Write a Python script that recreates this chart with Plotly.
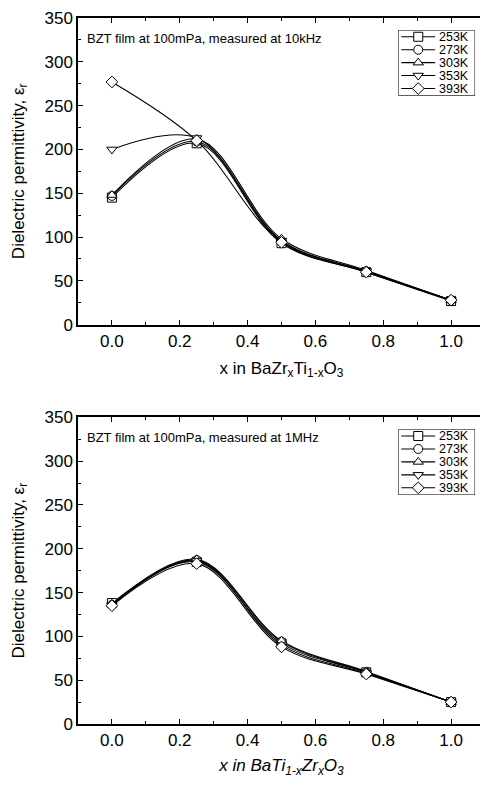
import plotly.graph_objects as go

x_vals = [0.0, 0.25, 0.5, 0.75, 1.0]
temps = ["253K", "273K", "303K", "353K", "393K"]
symbols = ["square", "circle", "triangle-up", "triangle-down", "diamond"]

# 10 kHz (top panel)
eps_10k_253 = [145, 207, 93, 60, 27]
eps_10k_273 = [147, 209, 95, 61, 28]
eps_10k_303 = [148, 212, 98, 62, 28]
eps_10k_353 = [200, 213, 96, 61, 28]
eps_10k_393 = [277, 210, 94, 60, 28]

# 1 MHz (bottom panel)
eps_1m_253 = [138, 185, 92, 59, 25]
eps_1m_273 = [136, 187, 94, 59, 25]
eps_1m_303 = [137, 188, 95, 60, 25]
eps_1m_353 = [135, 186, 90, 58, 25]
eps_1m_393 = [135, 183, 88, 57, 25]

top_series = [eps_10k_253, eps_10k_273, eps_10k_303, eps_10k_353, eps_10k_393]
bot_series = [eps_1m_253, eps_1m_273, eps_1m_303, eps_1m_353, eps_1m_393]

x_ticks = [0.0, 0.2, 0.4, 0.6, 0.8, 1.0]
x_tick_text = ["0.0", "0.2", "0.4", "0.6", "0.8", "1.0"]
y_ticks = [0, 50, 100, 150, 200, 250, 300, 350]

FONT = "Liberation Sans, Arial, sans-serif"
MSIZE = 9

fig = go.Figure()

for row_series, xa, ya in [(top_series, "x", "y"), (bot_series, "x2", "y2")]:
    for t, sym, ys in zip(temps, symbols, row_series):
        fig.add_trace(go.Scatter(
            x=x_vals, y=ys, xaxis=xa, yaxis=ya, name=t, showlegend=False,
            mode="lines+markers",
            line=dict(color="black", width=1.1, shape="spline", smoothing=1.0),
            marker=dict(symbol=sym, size=MSIZE, color="white", line=dict(color="black", width=1)),
        ))

# Hand-built legends (boxes with line+marker samples), one per panel
legend_axes = [("x3", "y3"), ("x4", "y4")]
annotations = []
shapes = []
for xa, ya in legend_axes:
    for i, (t, sym) in enumerate(zip(temps, symbols)):
        yc = 6.8 + 13 * i
        fig.add_trace(go.Scatter(
            x=[3, 37], y=[yc, yc], xaxis=xa, yaxis=ya, showlegend=False,
            mode="lines", hoverinfo="skip",
            line=dict(color="black", width=1.1),
        ))
        fig.add_trace(go.Scatter(
            x=[20], y=[yc], xaxis=xa, yaxis=ya, showlegend=False,
            mode="markers", hoverinfo="skip",
            marker=dict(symbol=sym, size=MSIZE, color="white",
                        line=dict(color="black", width=1)),
        ))
        annotations.append(dict(text=t, xref=xa, yref=ya, x=39, y=yc, xanchor="left",
                                yanchor="middle", showarrow=False, height=12,
                                font=dict(family=FONT, size=12.5, color="black")))
    shapes.append(dict(type="rect", xref=xa, yref=ya, x0=0, x1=77, y0=0, y1=66,
                       line=dict(color="black", width=1), fillcolor="rgba(0,0,0,0)", layer="below"))

axis_common = dict(
    showgrid=False, zeroline=False, showline=True, linecolor="black", linewidth=1.5,
    mirror="allticks", ticks="inside", ticklen=5, tickwidth=1.2, tickcolor="black",
    tickfont=dict(family=FONT, size=17, color="black"),
)
hidden = dict(visible=False, showgrid=False, zeroline=False, fixedrange=True)

fig.update_layout(
    width=480, height=779,
    margin=dict(l=70, r=1, t=7, b=63),
    paper_bgcolor="white", plot_bgcolor="white",
    font=dict(family=FONT, color="black"),
    showlegend=False,
    xaxis=dict(**axis_common, domain=[0, 1], anchor="y", range=[-0.1, 1.1],
               tickvals=x_ticks, ticktext=x_tick_text,
               minor=dict(ticks="inside", ticklen=3, dtick=0.1, tick0=0, tickcolor="black"),
               title=dict(text="x in BaZr<sub>x</sub>Ti<sub>1-x</sub>O<sub>3</sub>",
                          font=dict(family=FONT, size=17), standoff=12)),
    yaxis=dict(**axis_common, domain=[0.5656, 1.0], anchor="x", range=[0, 350],
               tickvals=y_ticks,
               minor=dict(ticks="inside", ticklen=3, dtick=25, tick0=0, tickcolor="black"),
               title=dict(text="Dielectric permittivity, ε<sub>r</sub>",
                          font=dict(family=FONT, size=17), standoff=16)),
    xaxis2=dict(**axis_common, domain=[0, 1], anchor="y2", range=[-0.1, 1.1],
                tickvals=x_ticks, ticktext=x_tick_text,
                minor=dict(ticks="inside", ticklen=3, dtick=0.1, tick0=0, tickcolor="black"),
                title=dict(text="<i>x in BaTi<sub>1-x</sub>Zr<sub>x</sub>O<sub>3</sub></i>",
                           font=dict(family=FONT, size=17), standoff=10)),
    yaxis2=dict(**axis_common, domain=[0, 0.4344], anchor="x2", range=[0, 350],
                tickvals=y_ticks,
                minor=dict(ticks="inside", ticklen=3, dtick=25, tick0=0, tickcolor="black"),
                title=dict(text="Dielectric permittivity, ε<sub>r</sub>",
                           font=dict(family=FONT, size=17), standoff=16)),
    xaxis3=dict(**hidden, domain=[0.787, 0.9756], anchor="y3", range=[0, 77]),
    yaxis3=dict(**hidden, domain=[0.890, 0.983], anchor="x3", range=[66, 0]),
    xaxis4=dict(**hidden, domain=[0.787, 0.9756], anchor="y4", range=[0, 77]),
    yaxis4=dict(**hidden, domain=[0.3244, 0.4175], anchor="x4", range=[66, 0]),
    shapes=shapes,
    annotations=annotations + [
        dict(text="BZT film at 100mPa, measured at 10kHz", xref="paper", yref="paper",
             x=0.017, y=0.9845, xanchor="left", yanchor="top", showarrow=False,
             font=dict(family=FONT, size=13)),
        dict(text="BZT film at 100mPa, measured at 1MHz", xref="paper", yref="paper",
             x=0.017, y=0.419, xanchor="left", yanchor="top", showarrow=False,
             font=dict(family=FONT, size=13)),
    ],
)

fig.write_html("out.html")
